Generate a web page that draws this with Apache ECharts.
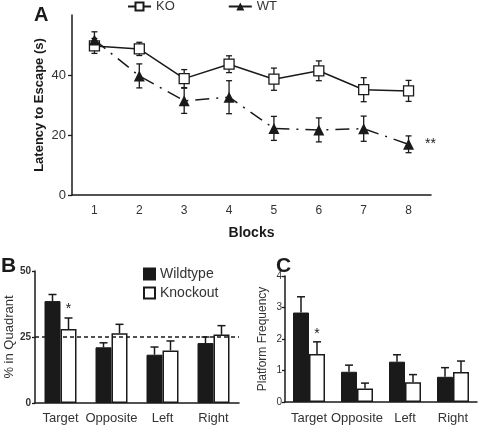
<!DOCTYPE html>
<html><head><meta charset="utf-8">
<script src="https://cdn.jsdelivr.net/npm/echarts@6/dist/echarts.min.js"></script>
<style>html,body{margin:0;padding:0;background:#fff}#c{width:478px;height:427px}</style>
</head><body><div id="c"></div>
<script>
// ---- Data ----
const blocks = ['1','2','3','4','5','6','7','8'];
const koLatency    = [49.7, 48.7, 38.8, 43.6, 38.6, 41.4, 35.1, 34.7];
const koLatencyErr = [2.5, 2.2, 3.0, 2.8, 3.7, 3.3, 4.0, 3.5];
const wtLatency    = [51.7, 39.7, 31.4, 32.6, 22.2, 21.7, 22.1, 16.9];
const wtLatencyErr = [2.7, 4.0, 4.2, 5.5, 4.0, 4.0, 4.2, 2.8];

const quadrants = ['Target','Opposite','Left','Right'];
const wtQuadrant    = [38.6, 21.1, 18.3, 22.7];
const wtQuadrantErr = [2.5, 1.7, 2.9, 2.3];
const koQuadrant    = [28.0, 26.4, 19.9, 25.9];
const koQuadrantErr = [4.2, 3.4, 3.6, 3.4];

const wtPlatform    = [2.84, 0.96, 1.28, 0.80];
const wtPlatformErr = [0.50, 0.21, 0.22, 0.29];
const koPlatform    = [1.52, 0.43, 0.63, 0.95];
const koPlatformErr = [0.39, 0.17, 0.24, 0.35];

const latencyTicks = [0, 20, 40];
const chanceLevel = 25;

// ---- Style ----
const FONT = "'Liberation Sans', Arial, sans-serif";
const INK = '#1a1a1a';
const TXT = '#333';
const BAR_W = 16;

const chart = echarts.init(document.getElementById('c'), null, {renderer:'canvas'});

function lineErr(vals, errs) {
  return {
    type: 'custom', xAxisIndex: 0, yAxisIndex: 0, z: 1, silent: true,
    data: vals.map((v, i) => [i, v - errs[i], v + errs[i]]),
    renderItem: (params, api) => {
      const lo = api.coord([api.value(0), api.value(1)]);
      const hi = api.coord([api.value(0), api.value(2)]);
      const w = 3;
      const st = {stroke: INK, lineWidth: 1.3};
      return {type: 'group', children: [
        {type:'line', shape:{x1:lo[0], y1:lo[1], x2:hi[0], y2:hi[1]}, style: st},
        {type:'line', shape:{x1:lo[0]-w, y1:lo[1], x2:lo[0]+w, y2:lo[1]}, style: st},
        {type:'line', shape:{x1:hi[0]-w, y1:hi[1], x2:hi[0]+w, y2:hi[1]}, style: st}
      ]};
    }
  };
}
function barErr(axisIdx, vals, errs, side) {
  return {
    type: 'custom', xAxisIndex: axisIdx, yAxisIndex: axisIdx, z: 5, silent: true,
    data: vals.map((v, i) => [i, v, v + errs[i]]),
    renderItem: (params, api) => {
      const lo = api.coord([api.value(0), api.value(1)]);
      const hi = api.coord([api.value(0), api.value(2)]);
      const x = lo[0] + side * BAR_W / 2;
      const w = 4;
      const st = {stroke: INK, lineWidth: 1.5};
      return {type: 'group', children: [
        {type:'line', shape:{x1:x, y1:lo[1], x2:x, y2:hi[1]}, style: st},
        {type:'line', shape:{x1:x-w, y1:hi[1], x2:x+w, y2:hi[1]}, style: st}
      ]};
    }
  };
}

const axisLineStyle = {lineStyle:{color: INK, width: 1.5}};

const option = {
  animation: false,
  backgroundColor: '#fff',
  textStyle: {fontFamily: FONT},
  title: [
    {text:'A', left: 34, top: 5, padding: 0, textStyle:{fontSize: 20, fontWeight:'bold', color: INK, fontFamily: FONT}},
    {text:'B', left: 1, top: 256, padding: 0, textStyle:{fontSize: 21, fontWeight:'bold', color: INK, fontFamily: FONT}},
    {text:'C', left: 276, top: 256, padding: 0, textStyle:{fontSize: 21, fontWeight:'bold', color: INK, fontFamily: FONT}}
  ],
  legend: [
    {data:[{name:'KO'}, {name:'WT', lineStyle:{type:'solid'}}], left: 127, top: 0, padding: 0,
     itemWidth: 23, itemHeight: 10, itemGap: 53,
     textStyle:{fontSize: 13, color: TXT, fontFamily: FONT}},
    {data:['Wildtype','Knockout'], orient:'vertical', left: 143, top: 267, padding: 0, itemWidth: 11, itemHeight: 11, itemGap: 5,
     icon: 'rect', textStyle:{fontSize: 14, color: TXT, fontFamily: FONT}}
  ],
  grid: [
    {left: 72, top: 15, width: 359, height: 180},
    {left: 35, top: 271, width: 204, height: 132},
    {left: 285, top: 276, width: 192, height: 126}
  ],
  xAxis: [
    {gridIndex: 0, type:'category', data: blocks, boundaryGap: true,
     axisLine: axisLineStyle, axisTick:{show:false},
     axisLabel:{fontSize: 12, color: TXT, margin: 10, interval: 0},
     name:'Blocks', nameLocation:'middle', nameGap: 31,
     nameTextStyle:{fontSize: 14, fontWeight:'bold', color: INK}},
    {gridIndex: 1, type:'category', data: quadrants, boundaryGap: true,
     axisLine: axisLineStyle, axisTick:{show:false},
     axisLabel:{fontSize: 13, color: TXT, margin: 9, interval: 0}},
    {gridIndex: 2, type:'category', data: quadrants, boundaryGap: true,
     axisLine: axisLineStyle, axisTick:{show:false},
     axisLabel:{fontSize: 13, color: TXT, margin: 10, interval: 0}}
  ],
  yAxis: [
    {gridIndex: 0, type:'value', min: 0, max: 60, interval: 20,
     axisLine:{show:true, ...axisLineStyle},
     axisTick:{show:true, length: 4, lineStyle:{color: INK, width: 1.3}, customValues: latencyTicks},
     axisLabel:{fontSize: 13, color: TXT, margin: 6, customValues: latencyTicks},
     splitLine:{show:false},
     name:'Latency to Escape (s)', nameLocation:'middle', nameGap: 26, nameMoveOverlap: false,
     nameTextStyle:{fontSize: 13, fontWeight:'bold', color: INK}},
    {gridIndex: 1, type:'value', min: 0, max: 50, interval: 25,
     axisLine:{show:true, ...axisLineStyle},
     axisTick:{show:true, length: 3, lineStyle:{color: INK, width: 1.3}},
     axisLabel:{fontSize: 10, fontWeight:'bold', color: TXT, margin: 4},
     splitLine:{show:false},
     name:'% in Quadrant', nameLocation:'middle', nameGap: 18,
     nameTextStyle:{fontSize: 13, color: TXT}},
    {gridIndex: 2, type:'value', min: 0, max: 4, interval: 1,
     axisLine:{show:true, ...axisLineStyle},
     axisTick:{show:true, length: 3, lineStyle:{color: INK, width: 1.3}},
     axisLabel:{fontSize: 10, color: TXT, margin: 3},
     splitLine:{show:false},
     name:'Platform Frequency', nameLocation:'middle', nameGap: 16,
     nameTextStyle:{fontSize: 12, color: TXT}}
  ],
  series: [
    lineErr(koLatency, koLatencyErr),
    lineErr(wtLatency, wtLatencyErr),
    {name:'KO', type:'line', xAxisIndex: 0, yAxisIndex: 0, z: 3, data: koLatency,
     symbol:'rect', symbolSize: 10,
     itemStyle:{color:'#fff', borderColor: INK, borderWidth: 1.3},
     lineStyle:{color: INK, width: 1.5}},
    {name:'WT', type:'line', xAxisIndex: 0, yAxisIndex: 0, z: 4,
     data: wtLatency.map((v, i) => i === wtLatency.length - 1
       ? {value: v, label:{show: true, formatter: '**', position: 'right', distance: 11, fontSize: 14, color: INK}}
       : v),
     symbol:'triangle', symbolSize: 11,
     itemStyle:{color: INK},
     lineStyle:{color: INK, width: 1.5, type: [14, 7, 2, 7]}},

    {name:'Wildtype', type:'bar', xAxisIndex: 1, yAxisIndex: 1, data: wtQuadrant,
     barWidth: BAR_W, barGap: '0%',
     itemStyle:{color: INK, borderColor: INK, borderWidth: 1},
     markLine:{silent: true, symbol:['none','none'], label:{show:false},
       lineStyle:{color: INK, type:[4,3], width: 1.6}, data:[{yAxis: chanceLevel}]}},
    {name:'Knockout', type:'bar', xAxisIndex: 1, yAxisIndex: 1,
     data: koQuadrant.map((v, i) => i === 0
       ? {value: v, label:{show: true, formatter: '*', position: 'top', distance: 13, fontSize: 14, color: INK}}
       : v),
     barWidth: BAR_W, barGap: '0%',
     itemStyle:{color:'#fff', borderColor: INK, borderWidth: 1.5}},
    barErr(1, wtQuadrant, wtQuadrantErr, -1),
    barErr(1, koQuadrant, koQuadrantErr, 1),

    {name:'Wildtype', type:'bar', xAxisIndex: 2, yAxisIndex: 2, data: wtPlatform,
     barWidth: BAR_W, barGap: '0%',
     itemStyle:{color: INK, borderColor: INK, borderWidth: 1}},
    {name:'Knockout', type:'bar', xAxisIndex: 2, yAxisIndex: 2,
     data: koPlatform.map((v, i) => i === 0
       ? {value: v, label:{show: true, formatter: '*', position: 'top', distance: 13, fontSize: 14, color: INK}}
       : v),
     barWidth: BAR_W, barGap: '0%',
     itemStyle:{color:'#fff', borderColor: INK, borderWidth: 1.5}},
    barErr(2, wtPlatform, wtPlatformErr, -1),
    barErr(2, koPlatform, koPlatformErr, 1)
  ]
};
chart.setOption(option);
</script>
</body></html>
